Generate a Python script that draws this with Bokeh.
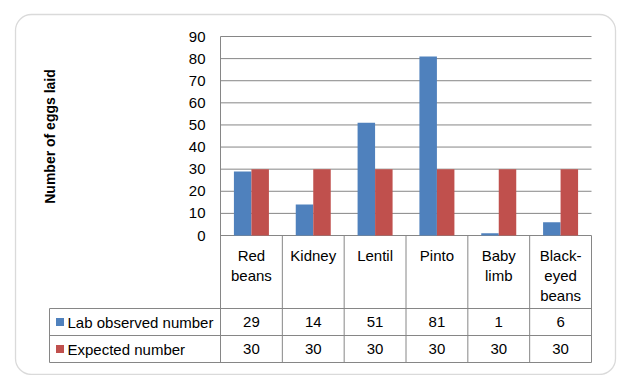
import math
from bokeh.plotting import figure
from bokeh.models import Range1d, BoxAnnotation
from bokeh.core.properties import value
from bokeh.embed import file_html
from bokeh.resources import INLINE

# ---------------- data ----------------
categories = ["Red beans", "Kidney", "Lentil", "Pinto", "Baby limb", "Black-eyed beans"]
category_labels = ["Red\nbeans", "Kidney", "Lentil", "Pinto", "Baby\nlimb", "Black-\neyed\nbeans"]
series_names = ["Lab observed number", "Expected number"]
observed = [29, 14, 51, 81, 1, 6]
expected = [30, 30, 30, 30, 30, 30]
y_ticks = [0, 10, 20, 30, 40, 50, 60, 70, 80, 90]
y_title = "Number of eggs laid"

# ---------------- layout (page pixels) ----------------
W, H, OFF = 620, 375, 0
PLOT_L, PLOT_R, PLOT_T, ZERO = 220, 591, 36, 235
Y_MAX = y_ticks[-1]
N = len(categories)
CW = (PLOT_R - PLOT_L) / N
PU = (ZERO - PLOT_T) / Y_MAX


def xd(px):
    return (px - PLOT_L) / CW


def yd(py):
    return (ZERO - py) / PU


BLUE = "#4F81BD"
RED = "#C0504D"
GRID = "#868686"
FONT = value("Liberation Sans")
FS = "15px"

p = figure(width=W, height=H,
           x_range=Range1d(xd(OFF), xd(OFF + W)),
           y_range=Range1d(yd(OFF + H), yd(OFF)),
           x_axis_location=None, y_axis_location=None,
           output_backend="svg", toolbar_location=None,
           min_border=0, outline_line_color=None,
           background_fill_color="white", border_fill_color="white")
p.grid.visible = False

# gridlines (incl. zero line)
p.segment(x0=[0] * len(y_ticks), x1=[N] * len(y_ticks), y0=y_ticks, y1=y_ticks,
          line_color=GRID, line_width=1)
# left axis line down through table header
p.segment(x0=[0], x1=[0], y0=[Y_MAX], y1=[yd(362)], line_color=GRID, line_width=1)

# table lines
ROW1_TOP, ROW2_TOP, TABLE_BOT, LABEL_L = 308, 335, 362, 49
seps = list(range(1, N + 1))
p.segment(x0=seps, x1=seps, y0=[0] * N, y1=[yd(TABLE_BOT)] * N, line_color=GRID, line_width=1)
hy = [yd(ROW1_TOP), yd(ROW2_TOP), yd(TABLE_BOT)]
p.segment(x0=[xd(LABEL_L)] * 3, x1=[N] * 3, y0=hy, y1=hy, line_color=GRID, line_width=1)
p.segment(x0=[xd(LABEL_L)], x1=[xd(LABEL_L)], y0=[yd(ROW1_TOP)], y1=[yd(TABLE_BOT)],
          line_color=GRID, line_width=1)

# bars
centers = [i + 0.5 for i in range(N)]
bw = 0.283
off = bw / 2
p.vbar(x=[c - off for c in centers], top=observed, width=bw, bottom=0,
       fill_color=BLUE, line_color=None)
p.vbar(x=[c + off for c in centers], top=expected, width=bw, bottom=0,
       fill_color=RED, line_color=None)

# y tick labels
p.text(x=[xd(205)] * len(y_ticks), y=y_ticks, text=[str(t) for t in y_ticks],
       text_align="right", text_baseline="middle", text_font=FONT,
       text_font_size=FS, text_color="black")

# y axis title
p.text(x=[xd(49)], y=[yd(136)], text=[y_title], angle=math.pi / 2,
       text_align="center", text_baseline="middle", text_font=FONT,
       text_font_size="14px", text_font_style="bold", text_color="black")

# category header
p.text(x=centers, y=[yd(246)] * N, text=category_labels, text_align="center",
       text_baseline="top", text_font=FONT, text_font_size=FS,
       text_line_height=1.2, text_color="black")

# table values
r1 = yd((ROW1_TOP + ROW2_TOP) / 2)
r2 = yd((ROW2_TOP + TABLE_BOT) / 2)
p.text(x=centers, y=[r1] * N, text=[str(v) for v in observed], text_align="center",
       text_baseline="middle", text_font=FONT, text_font_size=FS, text_color="black")
p.text(x=centers, y=[r2] * N, text=[str(v) for v in expected], text_align="center",
       text_baseline="middle", text_font=FONT, text_font_size=FS, text_color="black")

# row labels with keys
p.scatter(x=[xd(59.5)] * 2, y=[r1, r2], marker="square", size=8,
          fill_color=[BLUE, RED], line_color=None)
p.text(x=[xd(67)] * 2, y=[r1, r2], text=series_names, text_align="left",
       text_baseline="middle", text_font=FONT, text_font_size=FS, text_color="black")

# outer rounded border
p.add_layout(BoxAnnotation(left=xd(15), right=xd(615), top=yd(14), bottom=yd(374),
                           fill_alpha=0, line_color="#858585", line_width=1.3,
                           border_radius=16))

open("out.html", "w").write(file_html(p, INLINE))
